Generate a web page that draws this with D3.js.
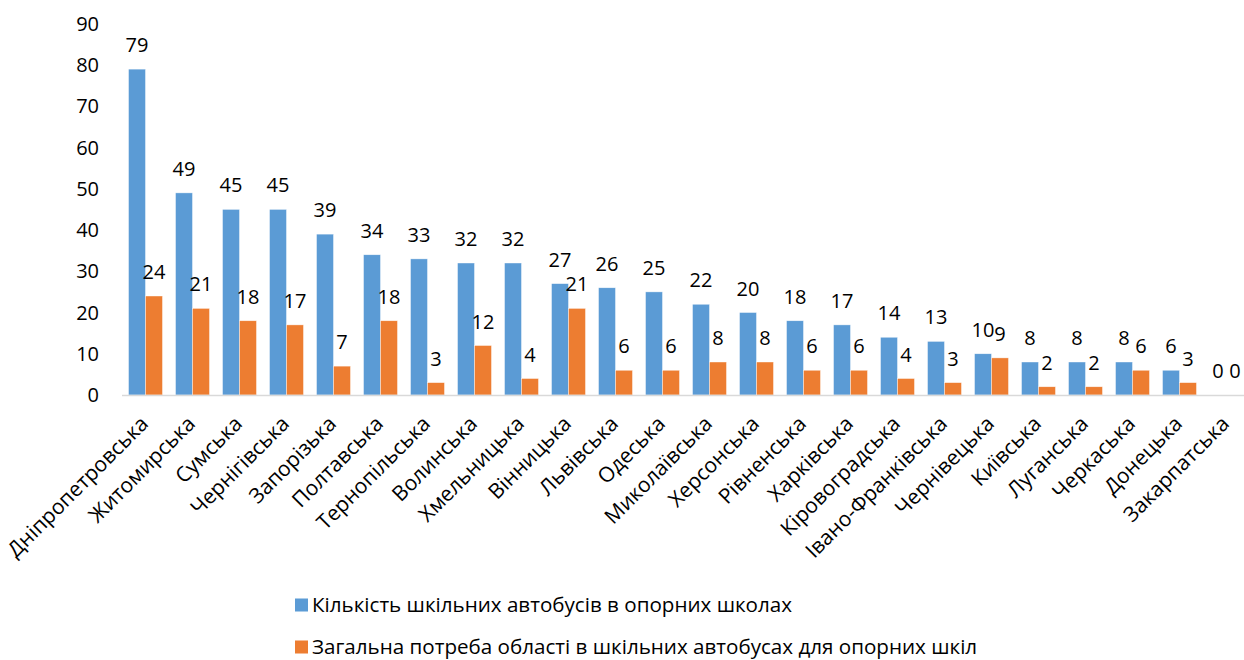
<!DOCTYPE html>
<html><head><meta charset="utf-8">
<script src="https://cdn.jsdelivr.net/npm/d3@7"></script>
<style>body{margin:0;background:#fff;} svg{display:block;}</style>
</head><body>
<svg id="c" width="1244" height="660"></svg>
<script>
const categories = ["Дніпропетровська","Житомирська","Сумська","Чернігівська","Запорізька","Полтавська","Тернопільська","Волинська","Хмельницька","Вінницька","Львівська","Одеська","Миколаївська","Херсонська","Рівненська","Харківська","Кіровоградська","Івано-Франківська","Чернівецька","Київська","Луганська","Черкаська","Донецька","Закарпатська"];
const buses = [79,49,45,45,39,34,33,32,32,27,26,25,22,20,18,17,14,13,10,8,8,8,6,0];
const need = [24,21,18,17,7,18,3,12,4,21,6,6,8,8,6,6,4,3,9,2,2,6,3,0];
const seriesNames = ["Кількість шкільних автобусів в опорних школах","Загальна потреба області в шкільних автобусах для опорних шкіл"];
const colors = ["#5B9BD5","#ED7D31"];
const yTicks = [0,10,20,30,40,50,60,70,80,90];

const svg = d3.select("#c");
const font = "'Open Sans', sans-serif";
const x = d3.scaleBand().domain(categories).range([122,1250]).paddingInner(0.277).paddingOuter(0.1385);
const x1 = d3.scaleBand().domain([0,1]).range([0,x.bandwidth()]);
const y = d3.scaleLinear().domain([0,90]).range([395,23.75]);

// y tick labels
svg.append("g").selectAll("text").data(yTicks).join("text")
  .attr("x",99).attr("y",d=>y(d)).attr("dy","0.36em")
  .attr("text-anchor","end").attr("font-family",font).attr("font-size",20).attr("fill","#000")
  .text(d=>d);

const data = categories.map((c,i)=>({c, v:[buses[i],need[i]]}));
const g = svg.append("g");
data.forEach(d=>{
  d.v.forEach((v,k)=>{
    g.append("rect").attr("x",x(d.c)+x1(k)).attr("width",x1.bandwidth())
      .attr("y",y(v)).attr("height",y(0)-y(v)).attr("fill",colors[k])
      .attr("stroke","#fff").attr("stroke-width",0.6).attr("stroke-opacity",0.7);
  });
});
// axis line
svg.append("line").attr("x1",122).attr("x2",1244).attr("y1",y(0)+0.5).attr("y2",y(0)+0.5)
  .attr("stroke","#D9D9D9").attr("stroke-width",1.5);
// value labels
data.forEach(d=>{
  d.v.forEach((v,k)=>{
    g.append("text").attr("x",x(d.c)+x1(k)+x1.bandwidth()/2).attr("y",y(v)-17)
      .attr("text-anchor","middle").attr("font-family",font).attr("font-size",20).attr("fill","#000")
      .text(v);
  });
});
// category labels
svg.append("g").selectAll("text").data(categories).join("text")
  .attr("transform",d=>`translate(${x(d)+x.bandwidth()/2+4},${y(0)+30}) rotate(-45)`)
  .attr("text-anchor","end").attr("font-family",font).attr("font-size",21).attr("fill","#000")
  .text(d=>d);
// legend
const lg = svg.append("g");
seriesNames.forEach((s,i)=>{
  const yy = 605 + i*42;
  lg.append("rect").attr("x",295).attr("y",yy-6.5).attr("width",13).attr("height",13).attr("fill",colors[i]);
  lg.append("text").attr("x",312).attr("y",yy).attr("dy","0.36em").attr("font-family",font)
    .attr("font-size",20.6).attr("fill","#000").text(s);
});
</script>
</body></html>
